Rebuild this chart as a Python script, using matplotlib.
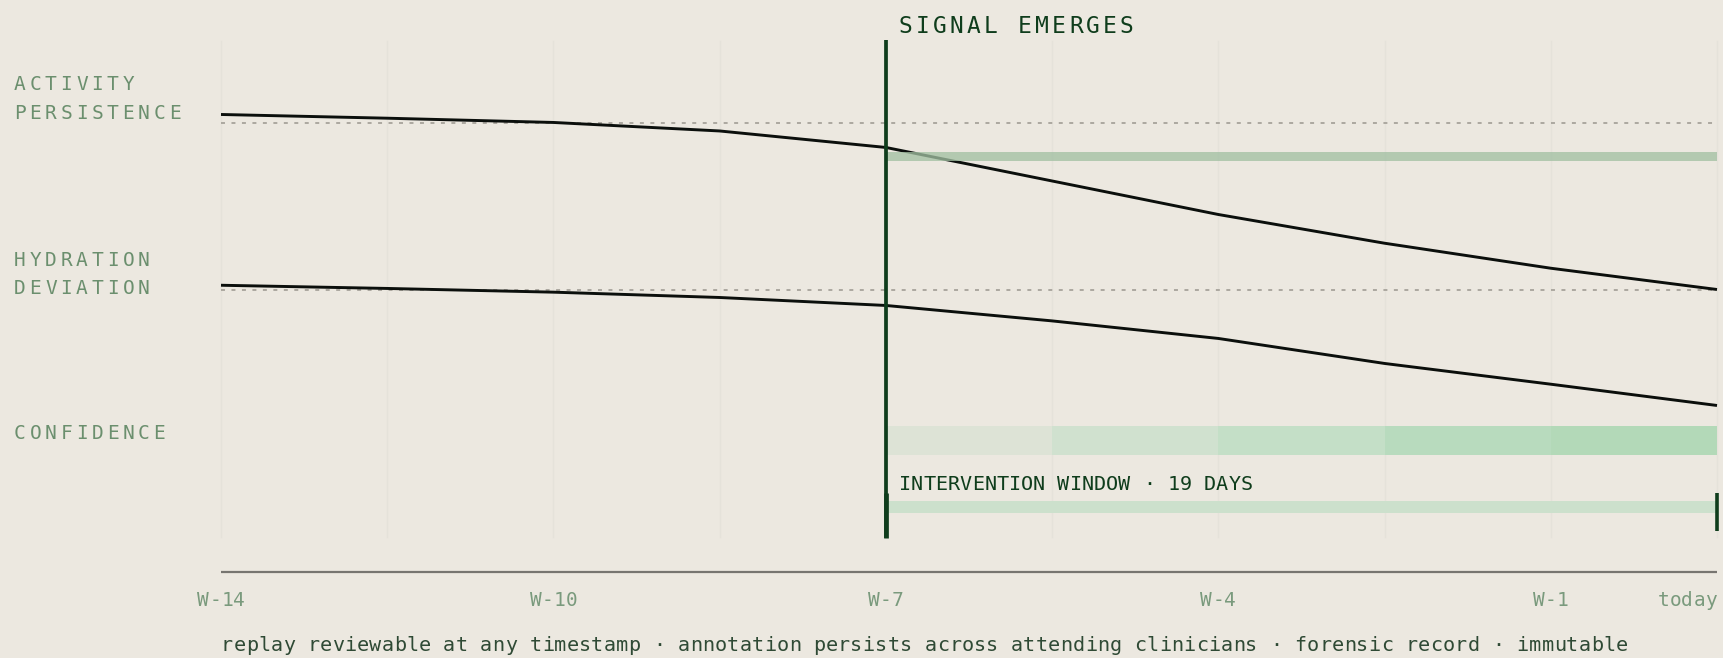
import numpy as np
import matplotlib.pyplot as plt

W, H = 1724, 658
BG = "#ece8e0"
DARK = "#0f3d1c"
SAGE = "#6b8f6e"
MONO = "DejaVu Sans Mono"

# ================= DATA =================
n_points = 10
tick_idx = [0, 2, 4, 6, 8, 9]
tick_labels = ["W-14", "W-10", "W-7", "W-4", "W-1", "today"]

activity = [86.0, 85.3, 84.5, 82.9, 79.8, 73.5, 67.2, 61.8, 57.1, 53.1]
hydration = [53.9, 53.3, 52.6, 51.6, 50.1, 47.2, 43.9, 39.2, 35.3, 31.3]
activity_base = 84.4
hydration_base = 53.1

signal_idx = 4
persist_band = (77.3, 78.9)
conf_band = (21.9, 27.5)
conf_colors = ["#dde3d6", "#d0e1cf", "#c4dfc7", "#b8dbbe", "#b3d9b8"]
window_band = (11.0, 13.3)

row_labels = [("ACTIVITY", 90), ("PERSISTENCE", 119), ("HYDRATION", 265.7),
              ("DEVIATION", 294), ("CONFIDENCE", 439)]
footer = ("replay reviewable at any timestamp \u00b7 annotation persists across "
          "attending clinicians \u00b7 forensic record \u00b7 immutable")

# ================= FIGURE =================
fig = plt.figure(figsize=(W / 100, H / 100), dpi=100, facecolor=BG)
ax = fig.add_axes([0, 0, 1, 1])
ax.set_facecolor(BG)
px_x = 1496 / 9
ax.set_xlim(-221 / px_x, (W - 221) / px_x)
ax.set_ylim(-(H - 572) / 5.32, 572 / 5.32)
ax.axis("off")

x = np.arange(n_points)

# faint vertical grid
for i in x:
    ax.plot([i, i], [6.65, 99.9], color="#e5e2da", lw=1.0, zorder=0)

# baselines
ax.plot([0, 9], [activity_base] * 2, color="#a7a39b", lw=1.3,
        linestyle=(0, (2.2, 3.6)), zorder=1)
ax.plot([0, 9], [hydration_base] * 2, color="#a7a39b", lw=1.3,
        linestyle=(0, (2.2, 3.6)), zorder=1)

# series
ax.plot(x, activity, color="#0b0f0c", lw=2.1, zorder=3, solid_capstyle="butt")
ax.plot(x, hydration, color="#0b0f0c", lw=2.1, zorder=3, solid_capstyle="butt")

# persistence band drawn over the line
ax.fill_between([signal_idx, 9], persist_band[0], persist_band[1],
                color="#a2c0a2", alpha=0.77, lw=0, zorder=4)

# confidence band, stepping darker
for k, c in enumerate(conf_colors):
    ax.fill_between([signal_idx + k, signal_idx + k + 1], conf_band[0], conf_band[1],
                    color=c, lw=0, zorder=2)

# intervention window
ax.fill_between([signal_idx, 9], window_band[0], window_band[1],
                color="#cce0cc", lw=0, zorder=2)
ax.plot([9, 9], [7.8, 14.8], color=DARK, lw=2.6, zorder=5, solid_capstyle="butt")
ax.plot([signal_idx, signal_idx], [6.4, 14.8], color=DARK, lw=3.4, zorder=5,
        solid_capstyle="butt")

# signal line
ax.plot([signal_idx, signal_idx], [6.4, 100], color=DARK, lw=2.7, zorder=5,
        solid_capstyle="butt")

# axis line
ax.plot([0, 9], [0, 0], color="#777570", lw=1.6, zorder=2, solid_capstyle="butt")


# ================= TEXT =================
def spaced(x0, y0, s, pitch, size, color):
    for i, ch in enumerate(s):
        if ch != " ":
            fig.text((x0 + i * pitch) / W, 1 - y0 / H, ch, ha="left", va="baseline",
                     fontsize=size, color=color, family=MONO)


def text_width(s, pitch, size):
    return (len(s) - 1) * pitch + 0.602 * size * 100 / 72


for lab, yb in row_labels:
    spaced(14.0, yb, lab, 15.5, 14, SAGE)

sx = ax.transData.transform((signal_idx, 0))[0]
spaced(sx + 13, 32.7, "SIGNAL EMERGES", 17.0, 16.5, DARK)
spaced(sx + 13, 490, "INTERVENTION WINDOW \u00b7 19 DAYS", 12.2, 14.5, DARK)

for i, lab in zip(tick_idx, tick_labels):
    cx = ax.transData.transform((i, 0))[0]
    w = text_width(lab, 12.0, 14)
    x0 = cx - w if lab == "today" else cx - w / 2
    spaced(x0, 605.7, lab, 12.0, 14, "#7a9a7d")

x0 = ax.transData.transform((0, 0))[0]
spaced(x0, 651, footer, 12.34, 14.5, "#2f4a35")

fig.savefig("out.png", dpi=100, facecolor=BG)
